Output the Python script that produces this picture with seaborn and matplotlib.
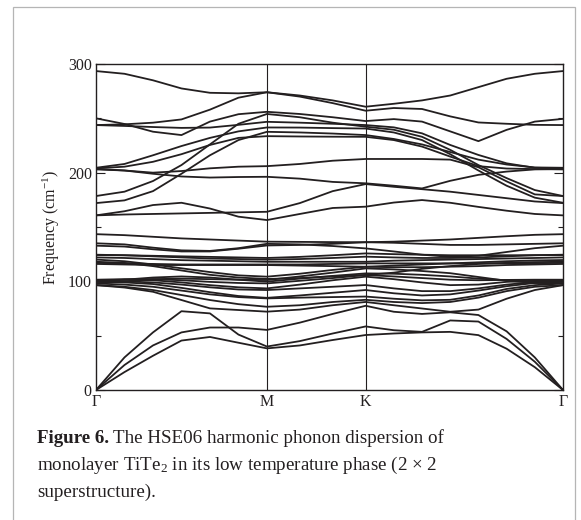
import numpy as np
import pandas as pd
import matplotlib
matplotlib.use("Agg")
import matplotlib.pyplot as plt
import seaborn as sns
from matplotlib.patches import Rectangle

# High-symmetry path and sampling of each segment
k_labels = ["Γ", "M", "K", "Γ"]
segment_lengths = [1 / np.sqrt(3), 1 / 3, 2 / 3]
segment_steps = [6, 3, 7]

# Phonon frequencies (cm^-1) at the 17 path samples: Γ ... M ... K ... Γ
acoustic = [
    [0, 16.5, 31.5, 45.5, 48.8, 43.5, 38.3, 41.0, 46.0, 50.6, 52.0, 53.0, 53.5, 50.5, 38.0, 21.0, 0],
    [0, 23.0, 41.0, 53.0, 57.5, 57.5, 55.3, 62.0, 70.0, 77.5, 72.0, 70.0, 71.5, 69.0, 54.0, 30.0, 0],
    [0, 30.0, 53.0, 72.5, 70.5, 51.0, 40.0, 45.0, 52.0, 58.5, 55.0, 53.5, 64.0, 63.0, 47.0, 26.0, 0],
]

optic_low = [
    [96.5, 94.3, 90.4, 82.8, 75.1, 73.6, 72.1, 74.0, 78.0, 81.0, 78.0, 75.0, 72.0, 74.0, 84.0, 92.0, 96.5],
    [96.5, 95.0, 92.0, 87.4, 82.8, 79.0, 76.6, 78.0, 81.0, 83.0, 81.0, 80.0, 81.0, 85.0, 91.0, 95.0, 96.5],
    [98.0, 97.0, 95.0, 91.5, 88.0, 85.5, 84.3, 85.0, 85.5, 86.0, 84.0, 82.5, 83.0, 87.0, 93.0, 96.5, 98.0],
    [99.5, 99.0, 97.5, 94.0, 90.0, 86.5, 84.8, 87.0, 89.5, 92.0, 89.0, 87.0, 88.0, 91.5, 95.5, 98.5, 99.5],
    [100.0, 100.0, 99.0, 97.0, 94.5, 92.5, 92.0, 93.5, 95.0, 96.6, 93.5, 91.0, 91.0, 93.5, 97.0, 99.3, 100.0],
    [101.0, 101.5, 101.0, 99.0, 96.5, 94.5, 93.5, 97.0, 101.0, 104.3, 102.0, 99.0, 96.5, 97.0, 99.5, 100.7, 101.0],
    [101.5, 102.0, 102.0, 101.0, 99.5, 98.5, 98.1, 100.5, 103.0, 105.8, 104.5, 103.0, 101.5, 101.0, 101.3, 101.5, 101.5],
    [99.7, 101.5, 103.5, 104.5, 103.5, 101.5, 99.7, 102.5, 105.0, 107.3, 107.0, 106.0, 104.5, 102.5, 101.0, 100.0, 99.7],
    [98.1, 100.0, 102.0, 102.5, 102.0, 101.5, 101.2, 104.5, 108.0, 111.9, 111.0, 109.5, 107.5, 104.0, 100.5, 98.5, 98.1],
]

optic_mid = [
    [143.4, 142.5, 141.0, 139.5, 138.5, 137.5, 136.5, 136.3, 136.1, 136.0, 136.5, 137.5, 138.5, 140.0, 141.5, 142.8, 143.4],
    [135.0, 134.0, 131.0, 128.5, 128.0, 130.5, 134.5, 134.0, 132.5, 130.3, 127.5, 124.5, 122.5, 123.5, 127.0, 130.5, 132.8],
    [132.8, 132.0, 129.5, 127.5, 127.5, 130.0, 133.0, 133.5, 134.5, 136.0, 135.5, 134.5, 133.5, 133.5, 134.0, 134.5, 135.0],
    [124.5, 124.0, 123.0, 122.0, 121.0, 120.5, 120.0, 120.5, 121.5, 122.7, 122.0, 121.5, 121.5, 122.0, 123.0, 124.0, 124.5],
    [122.0, 121.5, 120.5, 119.5, 119.0, 118.5, 118.0, 118.0, 118.0, 118.0, 119.0, 119.5, 120.0, 120.5, 121.0, 121.5, 122.0],
    [120.0, 118.5, 115.5, 112.0, 108.5, 105.5, 104.3, 107.0, 110.5, 113.4, 114.5, 115.5, 116.5, 117.5, 118.5, 119.2, 119.6],
    [118.0, 117.0, 114.0, 110.0, 106.0, 103.5, 102.2, 103.0, 104.5, 105.8, 108.0, 111.5, 114.0, 116.0, 117.0, 117.7, 118.0],
    [117.0, 116.5, 116.0, 115.5, 115.5, 115.5, 115.5, 115.5, 116.0, 116.5, 116.5, 116.5, 116.5, 116.5, 116.5, 116.7, 117.0],
    [116.0, 115.5, 115.0, 115.0, 115.0, 115.0, 115.0, 114.5, 114.0, 113.4, 113.0, 113.0, 113.5, 114.0, 115.0, 115.5, 116.0],
    [124.2, 124.0, 123.5, 123.0, 122.5, 122.0, 121.5, 122.5, 124.0, 125.7, 125.0, 124.5, 124.0, 124.0, 124.0, 124.1, 124.2],
]

optic_high = [
    [293.5, 291.0, 285.0, 277.5, 273.5, 273.0, 274.0, 271.0, 266.5, 260.7, 263.4, 266.5, 271.0, 278.7, 286.4, 291.0, 293.5],
    [243.8, 244.5, 246.0, 249.0, 258.0, 269.0, 274.0, 270.0, 264.0, 257.0, 259.5, 258.6, 251.8, 246.2, 245.0, 244.0, 243.8],
    [250.0, 244.8, 237.7, 234.6, 247.0, 253.8, 256.0, 254.0, 251.0, 247.5, 249.3, 247.0, 238.0, 229.0, 239.4, 247.0, 249.5],
    [243.8, 243.0, 242.0, 241.2, 241.5, 244.0, 246.8, 246.0, 245.0, 243.8, 241.7, 236.2, 225.5, 216.3, 208.6, 204.5, 204.0],
    [204.5, 208.0, 216.0, 224.5, 232.0, 238.0, 241.6, 241.5, 241.0, 240.6, 237.0, 230.0, 217.0, 202.0, 188.0, 177.0, 172.3],
    [204.0, 205.5, 210.0, 217.0, 225.5, 232.0, 233.6, 233.3, 233.1, 233.0, 230.0, 224.0, 214.8, 206.0, 203.8, 203.3, 203.0],
    [203.0, 202.0, 200.0, 201.5, 204.0, 205.5, 206.0, 208.0, 211.0, 212.6, 212.6, 212.6, 212.0, 205.0, 192.0, 180.0, 178.5],
    [178.5, 182.5, 192.3, 207.0, 226.0, 245.0, 254.0, 251.0, 246.0, 242.3, 239.5, 233.0, 221.0, 207.0, 195.0, 184.0, 178.5],
    [172.0, 174.5, 183.0, 199.0, 216.0, 230.0, 237.6, 237.0, 236.0, 234.6, 231.0, 226.0, 219.0, 212.0, 207.5, 204.8, 204.5],
    [203.5, 202.0, 199.0, 196.5, 195.5, 196.0, 196.2, 194.5, 191.5, 190.2, 188.0, 185.5, 192.5, 198.0, 201.0, 203.0, 203.5],
    [160.7, 164.5, 170.2, 172.3, 167.0, 159.5, 156.4, 162.0, 167.5, 168.7, 172.5, 174.8, 172.3, 168.5, 165.0, 162.0, 160.7],
    [160.7, 161.5, 162.0, 162.5, 163.0, 163.5, 164.0, 172.0, 183.0, 189.5, 187.0, 184.8, 182.5, 179.5, 176.5, 173.5, 172.0],
]

# Path coordinate of every sample and of the high-symmetry points
k_nodes = np.concatenate([[0.0], np.cumsum(segment_lengths)])
kgrid = [0.0]
for start, length, steps in zip(k_nodes[:-1], segment_lengths, segment_steps):
    kgrid += list(start + length * np.arange(1, steps + 1) / steps)
kgrid = np.array(kgrid)

rows = []
band_id = 0
for group in (acoustic, optic_low, optic_mid, optic_high):
    for band in group:
        for k, f in zip(kgrid, band):
            rows.append((band_id, k, f))
        band_id += 1
df = pd.DataFrame(rows, columns=["band", "k", "freq"])

sns.set_style("ticks")
plt.rcParams["font.family"] = ["Liberation Serif", "DejaVu Serif"]
plt.rcParams["mathtext.fontset"] = "custom"
plt.rcParams["mathtext.rm"] = "Liberation Serif"
plt.rcParams["mathtext.it"] = "Liberation Serif:italic"
plt.rcParams["mathtext.bf"] = "Liberation Serif:bold"

ink = "#231f20"
W, H = 581, 520
fig = plt.figure(figsize=(W / 100, H / 100), dpi=100)
fig.patch.set_facecolor("white")

# light frame around the figure panel
fig.add_artist(Rectangle((13 / W, -0.02), (575 - 13) / W, 1 - 7 / H + 0.02,
                         transform=fig.transFigure, fill=False,
                         edgecolor="#b5b5b5", linewidth=0.9))

ax = fig.add_axes([96 / W, 1 - 390 / H, 467 / W, 326 / H])
sns.lineplot(data=df, x="k", y="freq", units="band", estimator=None,
             color=ink, linewidth=1.3, ax=ax, legend=False)

for kn in k_nodes[1:-1]:
    ax.axvline(kn, color=ink, linewidth=0.8)

ax.set_xlim(k_nodes[0], k_nodes[-1])
ax.set_ylim(0, 300)
ax.set_xticks(k_nodes)
ax.set_xticklabels(k_labels)
ax.set_yticks([0, 100, 200, 300])
ax.set_yticks([50, 150, 250], minor=True)
ax.tick_params(axis="y", which="major", direction="in", length=6.5, width=0.8,
               left=True, right=True, labelsize=11.5, pad=3, color=ink, labelcolor=ink)
ax.tick_params(axis="y", which="minor", direction="in", length=3.3, width=0.8,
               left=True, right=True, color=ink)
ax.tick_params(axis="x", length=0, labelsize=11.5, pad=3, labelcolor=ink)
for s in ax.spines.values():
    s.set_linewidth(1.0)
    s.set_color(ink)
ax.set_xlabel("")
ax.set_ylabel("Frequency (cm$^{-1}$)", fontsize=11.5, color=ink)
ax.yaxis.set_label_coords(-0.073, 0.5)

# caption
cap_size = 13.7
renderer = fig.canvas.get_renderer()
x0 = 37 / W
t_bold = fig.text(x0, 1 - 443 / H, "Figure 6.", fontsize=cap_size,
                  fontweight="bold", color=ink, va="baseline")
bb = t_bold.get_window_extent(renderer)
fig.text(bb.x1 / W + 4 / W, 1 - 443 / H, "The HSE06 harmonic phonon dispersion of",
         fontsize=cap_size, color=ink, va="baseline")
fig.text(x0, 1 - 470 / H, "monolayer TiTe$_{2}$ in its low temperature phase (2 × 2",
         fontsize=cap_size, color=ink, va="baseline")
fig.text(x0, 1 - 497 / H, "superstructure).", fontsize=cap_size, color=ink, va="baseline")

fig.savefig("out.png", dpi=100)
